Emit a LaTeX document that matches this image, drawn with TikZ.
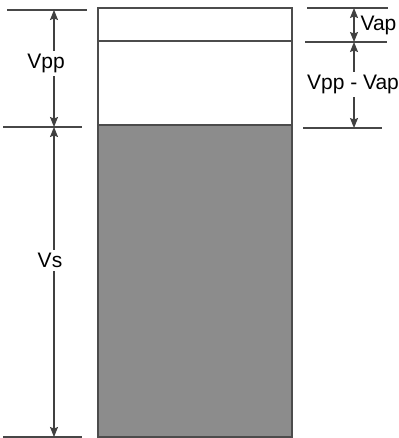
\documentclass[tikz,border=0pt]{standalone}
\usepackage{fontspec}
\setmainfont{Liberation Sans}
\usetikzlibrary{arrows.meta}

\tikzset{
	tick/.style={draw=black!72, line width=1.2pt},
	dim/.style={draw=black!75, line width=1.1pt,
		{Stealth[length=10pt,width=8pt,inset=1.5pt]}-{Stealth[length=10pt,width=8pt,inset=1.5pt]}},
	lbl/.style={fill=white, inner sep=3pt, font=\fontsize{21}{25}\selectfont},
}

\begin{document}
\begin{tikzpicture}[x=1pt, y=-1pt]
			\useasboundingbox (0,0) rectangle (398,438);
			
			% vessel: vapour, pore liquid and solid
			\fill[black!45] (98,125) rectangle (292,437);
			\draw[black!70, line width=1.5pt] (98,8) rectangle (292,437);
			\draw[black!70, line width=1.2pt] (98,41) -- (292,41);
			\draw[black!70, line width=1.2pt] (98,125) -- (292,125);
			
			% left ticks
			\coordinate (lt1) at (7,10);   \coordinate (lt2) at (87,10);
			\coordinate (lm1) at (3,127);  \coordinate (lm2) at (82,127);
			\coordinate (lb1) at (3,437);  \coordinate (lb2) at (82,437);
			\coordinate (a1) at (54,10);
			\coordinate (a2) at (54,127);
			\coordinate (a3) at (54,437);
			
			% right ticks
			\coordinate (rt1) at (307,8);  \coordinate (rt2) at (388,8);
			\coordinate (rm1) at (305,42); \coordinate (rm2) at (387,42);
			\coordinate (rb1) at (303,128);\coordinate (rb2) at (382,128);
			\coordinate (b1) at (354,8);
			\coordinate (b2) at (354,42);
			\coordinate (b3) at (354,128);
			
			\draw[tick] (lt1) -- (lt2);
			\draw[tick] (lm1) -- (lm2);
			\draw[tick] (lb1) -- (lb2);
			\draw[tick] (rt1) -- (rt2);
			\draw[tick] (rm1) -- (rm2);
			\draw[tick] (rb1) -- (rb2);
			
			\draw[dim] (a1) -- node[lbl, pos=0.46, xshift=-8pt] (vpp) {Vpp} (a2);
			\draw[dim] (a2) -- node[lbl, pos=0.43, xshift=-4pt] (vs) {Vs} (a3);
			\draw[dim] (b1) -- node[lbl, fill=none, right, xshift=3pt] (vap) {Vap} (b2);
			\draw[dim] (b2) -- node[lbl, pos=0.49, xshift=-1pt] (vdiff) {Vpp - Vap} (b3);
\end{tikzpicture}
\end{document}
